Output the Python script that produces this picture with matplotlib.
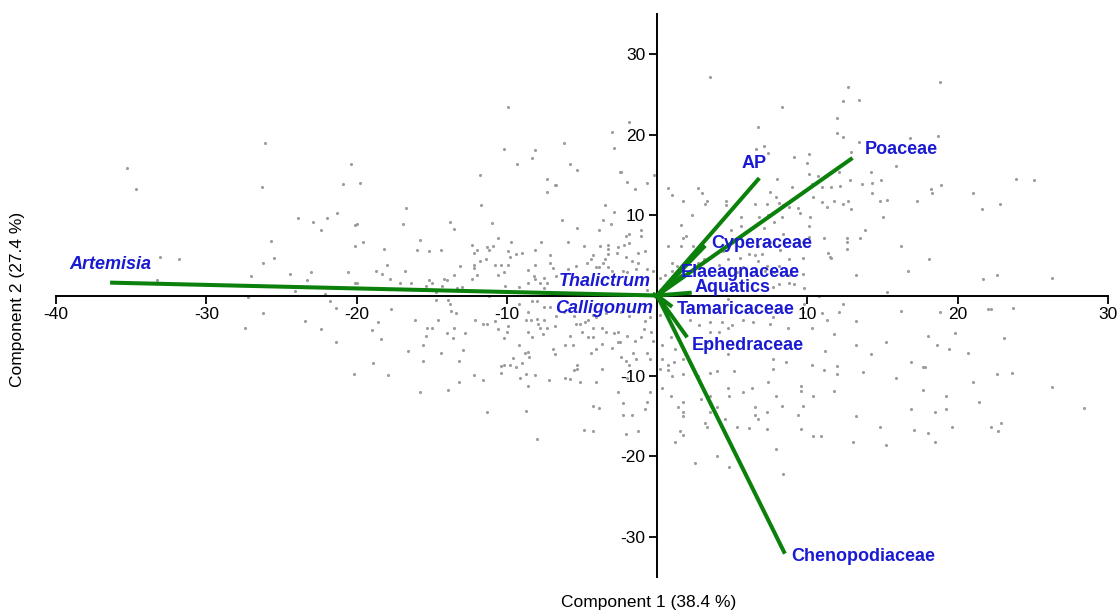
import matplotlib
matplotlib.use('Agg')
import matplotlib.pyplot as plt
import numpy as np

plt.rcParams['font.family'] = ['Liberation Sans', 'DejaVu Sans']
plt.rcParams['axes.unicode_minus'] = False

# ---------------- data ----------------
# sample scores (Component 1, Component 2), grouped by region of the plot
scores_far_left = [(-26.1,18.9),(-35.3,15.8),(-34.7,13.3),(-26.3,13.5),(-20.4,16.4),(-20.9,13.9),
    (-23.9,9.6),(-22.9,9.2),(-22.0,9.6),(-21.3,10.3),(-22.4,8.1),(-20.1,8.8),(-25.7,6.8),
    (-25.5,4.7),(-26.2,4.1),(-33.1,4.8),(-31.8,4.5),(-33.3,1.9),(-27.0,2.4),(-24.4,2.7),
    (-23.0,2.9),(-23.3,1.9),(-20.6,2.9),(-20.1,6.2),(-20.1,1.6),(-24.1,0.6),(-22.1,0.2),
    (-27.2,-0.2),(-21.8,-0.7),(-21.4,-1.5),(-26.2,-2.2),(-23.4,-3.2),(-22.4,-4.2),(-27.4,-4.1),
    (-21.4,-5.8),(-20.2,-9.7)]

scores_left_upper = [(-9.9,23.4),(-10.2,18.2),(-8.1,18.1),(-8.3,17.1),(-9.3,16.4),(-11.8,15.0),
    (-7.3,14.5),(-7.3,12.9),(-6.8,13.8),(-19.8,14.0),(-11.7,11.3),(-16.7,10.9),(-16.9,8.9),
    (-20.0,8.9),(-13.8,9.2),(-13.5,8.3),(-11.0,9.0),(-19.6,6.7),(-18.2,5.8),(-15.8,6.9),
    (-16.0,5.6),(-15.2,5.5),(-14.4,5.7),(-12.3,6.3),(-12.2,5.3),(-12.0,5.6),(-11.3,6.0),
    (-11.2,5.7),(-10.9,6.2),(-10.6,7.1),(-9.7,6.7),(-9.9,5.5),(-9.8,4.8),(-9.4,5.1),(-9.0,5.3),
    (-8.1,5.7),(-7.7,6.6),(-7.1,5.0),(-7.1,4.0),(-6.9,3.4),(-8.1,3.8),(-8.6,3.2),(-8.2,2.4),
    (-8.1,2.0),(-7.8,1.6),(-7.5,2.2),(-7.3,1.6),(-8.6,1.6),(-9.2,1.1),(-7.5,0.9),(-10.1,1.2),
    (-9.9,3.8),(-10.2,2.9),(-10.4,3.8),(-10.6,2.6),(-10.8,3.8),(-11.4,4.6),(-11.8,4.3),
    (-12.2,3.8),(-12.2,3.4),(-12.0,2.5),(-12.3,2.1),(-13.1,3.7),(-13.5,2.5),(-14.2,2.0),
    (-14.0,1.9),(-14.3,1.2),(-15.2,1.9),(-15.0,1.5),(-15.4,1.2),(-16.4,1.6),(-17.1,1.5),
    (-17.8,2.0),(-18.0,3.8),(-18.7,3.0),(-18.3,2.7),(-16.8,3.0),(-20.0,1.6),(-13.3,0.9),
    (-13.0,1.0),(-14.7,0.4),(-11.2,-0.1)]

scores_left_lower = [(-17.7,-1.7),(-14.7,-0.6),(-13.9,-0.5),(-13.8,-1.0),(-13.7,-1.9),(-13.4,-2.2),
    (-18.6,-3.3),(-19.0,-4.3),(-18.4,-5.4),(-18.9,-8.4),(-17.9,-9.9),(-16.1,-3.1),(-15.3,-4.1),
    (-15.0,-4.1),(-14.6,-3.0),(-15.4,-5.0),(-15.6,-6.1),(-16.6,-6.9),(-15.6,-8.1),(-15.8,-12.0),
    (-14.4,-7.2),(-14.0,-4.7),(-13.6,-5.3),(-13.5,-4.1),(-12.8,-4.7),(-12.9,-6.8),(-13.2,-8.2),
    (-13.2,-10.8),(-13.9,-11.8),(-12.1,-3.1),(-11.6,-3.5),(-11.3,-3.6),(-12.2,-9.9),(-11.6,-10.5),
    (-11.3,-14.5),(-10.8,-3.2),(-10.6,-4.2),(-10.2,-5.3),(-10.0,-4.5),(-9.9,-3.8),(-9.2,-6.2),
    (-9.6,-7.8),(-10.2,-8.6),(-10.4,-8.8),(-10.4,-9.6),(-9.8,-8.7),(-9.4,-8.9),(-9.0,-8.4),
    (-9.1,-10.3),(-8.7,-9.7),(-8.6,-11.3),(-8.7,-14.3),(-8.0,-17.9),(-9.2,-1.0),(-8.6,-2.1),
    (-8.7,-3.1),(-8.4,-3.0),(-8.0,-2.9),(-8.3,-0.7),(-8.0,-0.7),(-7.5,-1.4),(-7.1,-1.4),
    (-7.9,-3.6),(-7.8,-4.0),(-7.5,-3.0),(-7.3,-4.0),(-6.8,-3.8),(-8.6,-4.5),(-8.3,-5.2),
    (-7.6,-4.8),(-6.9,-6.6),(-6.8,-7.3),(-8.8,-7.1),(-8.5,-7.6),(-8.6,-7.0),(-8.1,-9.9),
    (-7.2,-10.5)]

scores_center_left = [(-1.9,21.6),(-3.0,20.3),(-2.9,18.4),(-6.2,18.9),(-5.8,16.3),(-5.3,15.6),
    (-2.4,15.4),(-2.0,14.1),(-0.7,14.0),(-1.5,13.3),(-0.2,15.0),(-6.7,13.8),(-3.5,11.2),
    (-2.9,10.4),(-3.6,9.4),(-3.1,8.9),(-6.3,9.4),(-5.3,8.4),(-3.9,8.1),(-1.1,8.2),(-1.9,7.7),
    (-2.1,7.4),(-1.1,7.4),(-5.9,6.6),(-4.9,6.1),(-3.8,6.1),(-3.3,6.3),(-3.3,5.8),(-2.6,6.0),
    (-2.2,6.3),(-1.9,6.5),(-2.7,5.3),(-3.3,5.2),(-1.3,5.3),(-0.8,5.5),(-2.1,4.8),(-1.7,4.3),
    (-4.3,5.0),(-3.5,4.5),(-3.6,4.1),(-3.9,3.6),(-4.4,4.5),(-4.7,4.0),(-5.4,3.7),(-5.9,3.3),
    (-4.1,3.6),(-3.3,3.5),(-3.0,3.1),(-2.3,3.1),(-2.0,2.9),(-1.4,3.3),(-1.3,4.0),(-0.7,3.3),
    (-0.3,3.0),(-6.7,2.4),(-0.7,0.7),(-6.7,-2.6),(-6.2,-2.0),(-5.5,-2.5),(-4.6,-3.1),
    (-4.1,-2.7),(-4.3,-2.4),(-3.4,-2.2),(-2.4,-2.1),(-1.9,-2.6),(-1.3,-2.1),(-0.5,-2.7),
    (-5.4,-3.5),(-5.1,-3.6),(-4.8,-3.3),(-4.3,-4.0),(-3.7,-4.0),(-3.4,-4.6),(-2.9,-4.7),
    (-2.6,-4.5),(-2.5,-5.8),(-2.0,-5.0),(-1.5,-5.7),(-1.1,-5.2),(-0.4,-4.6),(-5.0,-4.6),
    (-5.8,-5.0),(-6.1,-6.2),(-5.6,-6.1),(-4.6,-5.1),(-4.3,-5.2),(-3.7,-6.0),(-4.4,-7.2),
    (-4.1,-6.6),(-3.0,-6.5),(-2.6,-5.8),(-2.4,-7.6),(-2.1,-8.1),(-1.6,-7.1),(-1.9,-8.6),
    (-1.4,-7.9),(-0.7,-7.2),(-5.3,-8.6),(-5.3,-9.1),(-5.5,-9.3),(-6.1,-10.2),(-5.8,-10.4),
    (-5.1,-10.7),(-4.1,-10.7),(-3.7,-9.2),(-2.6,-12.0),(-0.5,-12.0),(-2.0,-10.3),(-4.3,-13.8),
    (-3.9,-14.0),(-2.3,-13.4),(-2.3,-14.9),(-1.7,-14.9),(-0.8,-14.1),(-0.7,-13.3),(-4.9,-16.7),
    (-4.3,-16.9),(-2.1,-17.2),(-1.3,-16.9)]

scores_right_upper = [(3.5,27.2),(6.7,21.0),(8.3,23.4),(6.6,18.2),(7.1,18.6),(7.4,17.7),(9.1,17.2),
    (10.1,17.6),(12.7,25.9),(12.4,24.2),(13.4,24.3),(12.0,22.1),(12.0,20.2),(12.4,19.7),
    (13.4,19.1),(12.9,17.9),(18.8,26.6),(18.7,19.8),(16.8,19.6),(15.9,16.1),(14.2,15.4),
    (14.9,14.4),(14.3,14.0),(13.6,13.9),(12.8,14.3),(12.2,13.6),(11.6,13.5),(11.0,13.5),
    (10.7,14.8),(10.1,15.1),(10.3,13.9),(9.8,13.0),(10.4,12.2),(11.0,11.6),(11.3,11.0),
    (11.8,11.7),(12.4,11.4),(12.7,11.7),(12.9,10.8),(14.3,12.8),(14.8,11.7),(15.3,11.9),
    (15.0,9.7),(17.3,11.8),(18.2,13.2),(18.3,12.7),(18.9,13.8),(13.8,8.2),(13.5,7.1),
    (12.6,7.2),(12.6,6.7),(12.6,5.8),(16.2,6.2),(18.1,4.6),(16.7,3.1),(21.0,12.7),(21.6,10.7),
    (22.8,11.4),(23.9,14.5),(25.1,14.4),(21.7,2.1),(22.6,2.6),(26.3,2.2),(13.2,2.5),(15.3,0.4),
    (11.1,7.1),(11.4,5.3),(11.6,4.7),(9.7,4.7),(9.8,0.9),(8.8,4.5),(8.1,3.7),(9.7,6.7),
    (10.1,7.3),(10.1,8.6),(10.2,9.8),(9.5,10.2),(8.8,11.0),(9.4,10.9),(8.4,11.2),(8.3,9.8),
    (7.8,9.1),(8.4,7.6),(8.1,6.3),(7.1,8.4),(7.4,10.0),(7.3,11.4),(7.9,12.3),(8.1,11.5),
    (7.5,12.9),(8.0,14.5),(9.0,13.5),(10.0,16.5),(11.0,14.5),(12.1,15.3),(6.5,11.4),(6.8,9.8),
    (5.6,9.8),(5.6,8.6),(4.9,8.2),(4.6,11.8),(4.6,11.3),(3.3,11.8),(3.2,11.4),(2.7,13.4),
    (3.0,12.8),(1.0,12.5),(0.7,13.4),(1.7,11.7),(2.3,10.0),(1.6,8.8),(1.7,7.1),(1.6,6.2),
    (0.7,6.2),(1.9,7.4),(2.4,6.2),(3.0,6.0),(4.4,5.5),(4.7,4.5),(5.5,4.7),(6.1,5.2),(6.5,5.0),
    (7.0,5.2),(6.7,6.1),(7.5,6.6),(6.7,4.3),(7.3,3.7),(7.2,3.1),(7.8,2.9),(8.8,2.6),(9.7,2.7),
    (8.8,1.6),(9.1,1.4),(8.1,1.4),(7.7,1.1),(5.7,3.5),(5.3,2.9),(4.1,3.8),(1.3,3.7),(1.0,4.1),
    (1.0,3.0),(0.5,2.5),(0.2,2.2),(1.9,4.2),(2.7,4.0),(3.1,4.6),(-2.5,15.4),(8.2,5.7),
    (11.5,4.8)]

scores_right_lower = [(0.2,-2.4),(-0.8,-3.2),(-0.9,-4.2),(-0.3,-5.7),(0.3,-6.1),(0.9,-5.1),
    (1.3,-5.0),(-0.5,-7.9),(0.3,-7.9),(0.7,-8.6),(1.1,-8.3),(1.7,-7.9),(1.2,-6.7),(0.2,-9.2),
    (0.7,-9.3),(1.0,-10.0),(1.7,-9.8),(0.3,-11.5),(0.9,-12.5),(1.4,-13.9),(1.7,-13.3),
    (1.7,-14.5),(1.7,-15.0),(1.5,-16.9),(1.7,-17.4),(1.2,-18.2),(2.5,-20.8),(2.9,-12.9),
    (3.2,-15.8),(3.3,-16.3),(4.0,-19.9),(4.5,-15.4),(4.6,-17.5),(4.8,-21.3),(3.5,-14.5),
    (4.0,-13.9),(3.5,-12.5),(2.7,-10.0),(3.5,-9.6),(4.0,-9.4),(3.3,-5.8),(3.5,-4.5),(4.1,-4.6),
    (4.7,-7.3),(5.1,-9.4),(4.7,-11.5),(4.8,-12.5),(5.7,-12.0),(5.3,-16.4),(6.1,-16.5),
    (6.3,-11.5),(6.5,-13.9),(6.5,-14.8),(6.7,-15.4),(7.3,-14.5),(7.3,-16.6),(7.4,-10.8),
    (7.7,-7.9),(7.7,-9.1),(7.9,-12.5),(8.3,-13.8),(7.9,-19.1),(8.4,-22.2),(8.6,-8.3),(8.7,-4.0),
    (7.5,-3.6),(6.4,-3.3),(5.7,-3.1),(5.0,-3.7),(4.7,-4.1),(4.3,-3.3),(3.5,-3.3),(2.8,-3.7),
    (9.6,-11.3),(9.6,-11.9),(9.7,-13.8),(9.4,-14.8),(9.6,-16.6),(10.4,-12.5),(10.4,-17.5),
    (10.9,-17.5),(10.3,-8.6),(11.1,-9.3),(11.2,-6.9),(10.3,-4.0),(11.8,-4.8),(12.0,-8.8),
    (12.0,-9.7),(11.8,-11.9),(13.2,-15.0),(13.0,-18.2),(13.2,-3.2),(13.7,-9.5),(14.2,-7.3),
    (14.8,-16.4),(15.2,-18.6),(15.2,-5.8),(15.9,-10.3),(16.9,-8.3),(16.9,-14.1),(17.1,-16.7),
    (17.7,-11.7),(17.7,-8.9),(17.8,-8.9),(18.0,-5.0),(18.0,-17.1),(18.5,-14.5),(18.5,-18.2),
    (18.6,-6.1),(19.2,-12.5),(19.2,-14.1),(19.4,-6.6),(19.6,-16.4),(19.8,-4.7),(12.1,-2.1),
    (12.4,-1.0),(11.0,-2.2),(9.7,-2.1),(9.8,-1.0),(16.2,-1.9),(18.8,-2.0),(13.2,-6.1),
    (2.2,-3.1),(22.0,-1.7),(22.2,-1.7),(23.7,-1.5),(23.1,-5.3),(20.7,-7.1),(22.6,-9.8),
    (23.6,-9.6),(21.0,-10.7),(26.3,-11.4),(21.4,-13.2),(28.4,-14.0),(22.9,-15.8),(22.2,-16.3),
    (22.7,-16.9),(7.7,-2.7),(4.7,-0.4),(10.8,-0.1),(11.3,-3.0)]

# variable loadings (vector end points)
taxa = ['Artemisia', 'Thalictrum', 'Calligonum', 'AP', 'Poaceae', 'Cyperaceae',
        'Elaeagnaceae', 'Aquatics', 'Tamaricaceae', 'Ephedraceae', 'Chenopodiaceae']
load_x = [-36.4, -0.3, -0.2, 6.8, 13.0, 3.2, 1.7, 2.3, 1.0, 2.0, 8.5]
load_y = [1.6, 0.2, -0.2, 14.6, 17.1, 6.2, 2.5, 0.35, -1.4, -5.2, -32.1]
# label anchor positions
label_x = [-39.1, -0.4, -0.3, 5.6, 13.8, 3.6, 1.6, 2.5, 1.3, 2.3, 8.9]
label_y = [3.8, 1.8, -1.6, 16.4, 18.1, 6.5, 2.8, 1.0, -1.7, -6.2, -32.5]
label_ha = ['left', 'right', 'right', 'left', 'left', 'left', 'left', 'left', 'left', 'left', 'left']
italic_taxa = ['Artemisia', 'Thalictrum', 'Calligonum']

x_ticks = [-40, -30, -20, -10, 10, 20, 30]
y_ticks = [-30, -20, -10, 10, 20, 30]

# ---------------- plot ----------------
W, H = 1119, 612
fig = plt.figure(figsize=(W / 100, H / 100), dpi=100)
ax = fig.add_axes([56 / W, 35 / H, 1052 / W, 563 / H])
ax.set_xlim(-40, 30)
ax.set_ylim(-35, 35)

for side in ['top', 'right']:
    ax.spines[side].set_visible(False)
ax.spines['left'].set_position(('data', 0))
ax.spines['bottom'].set_position(('data', 0))
for side in ['left', 'bottom']:
    ax.spines[side].set_linewidth(1.4)
    ax.spines[side].set_zorder(2)

ax.set_xticks(x_ticks)
ax.set_yticks(y_ticks)
ax.tick_params(direction='out', length=5.5, width=1.3, labelsize=12.5, pad=3, colors='black')

all_scores = np.array(scores_far_left + scores_left_upper + scores_left_lower +
                      scores_center_left + scores_right_upper + scores_right_lower)
ax.scatter(all_scores[:, 0], all_scores[:, 1], s=5, c='#9c9c9c', linewidths=0, zorder=1)

green = '#0b800b'
blue = '#1a1ad2'
for name, lx, ly, tx, ty, ha in zip(taxa, load_x, load_y, label_x, label_y, label_ha):
    ax.plot([0, lx], [0, ly], color=green, lw=2.9, solid_capstyle='butt', zorder=3)
    ax.text(tx, ty, name, color=blue, fontsize=13, fontweight='bold',
            fontstyle='italic' if name in italic_taxa else 'normal',
            ha=ha, va='center', zorder=4)

fig.text(649 / W, 1 - 603 / H, 'Component 1 (38.4 %)', ha='center', va='center', fontsize=12.5)
fig.text(18 / W, 1 - 299 / H, 'Component 2 (27.4 %)', ha='center', va='center',
         rotation=90, fontsize=12.5)

fig.savefig('out.png', dpi=100)
